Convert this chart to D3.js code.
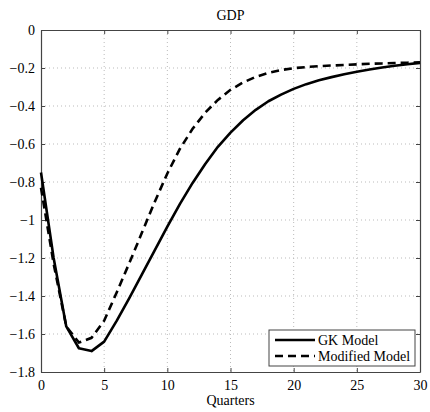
<!DOCTYPE html>
<html>
<head>
<meta charset="utf-8">
<script src="https://cdn.jsdelivr.net/npm/d3@7"></script>
<style>
  body { margin: 0; background: #fff; }
  text { font-family: "Liberation Serif", "DejaVu Serif", serif; fill: #000; }
</style>
</head>
<body>
<svg id="chart" width="430" height="412"></svg>
<script>
// data
const quarters = d3.range(0, 31);
const gkModel = [-0.75, -1.20, -1.56, -1.675, -1.69, -1.64, -1.53, -1.41, -1.285, -1.16,
  -1.035, -0.915, -0.805, -0.705, -0.615, -0.54, -0.475, -0.42, -0.375, -0.34,
  -0.31, -0.285, -0.265, -0.248, -0.233, -0.22, -0.208, -0.197, -0.188, -0.18, -0.173];
const modifiedModel = [-0.83, -1.23, -1.56, -1.645, -1.62, -1.53, -1.38, -1.225, -1.065, -0.905,
  -0.755, -0.625, -0.52, -0.435, -0.368, -0.315, -0.276, -0.247, -0.226, -0.211,
  -0.201, -0.195, -0.19, -0.187, -0.184, -0.181, -0.178, -0.176, -0.174, -0.172, -0.17];
const xTicks = [0, 5, 10, 15, 20, 25, 30];
const yTicks = [0, -0.2, -0.4, -0.6, -0.8, -1, -1.2, -1.4, -1.6, -1.8];
const seriesNames = ['GK Model', 'Modified Model'];

const margin = {left: 41, right: 10, top: 30, bottom: 40};
const width = 430 - margin.left - margin.right;
const height = 412 - margin.top - margin.bottom;
const serif = '"Liberation Serif", "DejaVu Serif", serif';

const svg = d3.select('#chart')
  .append('g')
  .attr('transform', `translate(${margin.left}, ${margin.top})`);

const x = d3.scaleLinear().domain([0, 30]).range([0, width]);
const y = d3.scaleLinear().domain([-1.8, 0]).range([height, 0]);

const fmt = d => d === 0 ? '0' : String(d).replace('-', '\u2212');

// dotted grid
svg.append('g').selectAll('line')
  .data(xTicks.slice(1, -1))
  .enter().append('line')
  .attr('x1', d => x(d)).attr('x2', d => x(d))
  .attr('y1', 0).attr('y2', height)
  .attr('stroke', '#bbb').attr('stroke-width', 1).attr('stroke-dasharray', '1,3');
svg.append('g').selectAll('line')
  .data(yTicks.slice(1, -1))
  .enter().append('line')
  .attr('x1', 0).attr('x2', width)
  .attr('y1', d => y(d)).attr('y2', d => y(d))
  .attr('stroke', '#bbb').attr('stroke-width', 1).attr('stroke-dasharray', '1,3');

// axes with inward ticks on all sides
const axisStyle = g => {
  g.attr('font-family', serif).attr('font-size', 14);
  g.select('.domain').attr('stroke', '#444').attr('stroke-width', 1.2);
  g.selectAll('.tick line').attr('stroke', '#444');
  g.selectAll('.tick text').attr('fill', '#000');
};
svg.append('g').attr('transform', `translate(0, ${height})`)
  .call(d3.axisBottom(x).tickValues(xTicks).tickSizeInner(-4).tickSizeOuter(0).tickPadding(8).tickFormat(fmt))
  .call(axisStyle);
svg.append('g')
  .call(d3.axisLeft(y).tickValues(yTicks).tickSizeInner(-4).tickSizeOuter(0).tickPadding(6).tickFormat(fmt))
  .call(axisStyle);
svg.append('g')
  .call(d3.axisTop(x).tickValues(xTicks).tickSizeInner(-4).tickSizeOuter(0).tickFormat(''))
  .call(axisStyle);
svg.append('g').attr('transform', `translate(${width}, 0)`)
  .call(d3.axisRight(y).tickValues(yTicks).tickSizeInner(-4).tickSizeOuter(0).tickFormat(''))
  .call(axisStyle);

// series
const line = d3.line().x((d, i) => x(quarters[i])).y(d => y(d));
svg.append('path').datum(gkModel)
  .attr('d', line).attr('fill', 'none')
  .attr('stroke', '#000').attr('stroke-width', 2.6).attr('stroke-linejoin', 'round');
svg.append('path').datum(modifiedModel)
  .attr('d', line).attr('fill', 'none')
  .attr('stroke', '#000').attr('stroke-width', 2.6).attr('stroke-dasharray', '8,5');

// title and label
svg.append('text').attr('x', width / 2).attr('y', -10)
  .attr('text-anchor', 'middle').attr('font-size', 14).text('GDP');
svg.append('text').attr('x', width / 2).attr('y', height + 33)
  .attr('text-anchor', 'middle').attr('font-size', 14).text('Quarters');

// legend
const legend = svg.append('g').attr('transform', `translate(${width - 151}, ${height - 42})`);
legend.append('rect').attr('width', 146).attr('height', 36)
  .attr('fill', '#fff').attr('stroke', '#444').attr('stroke-width', 1);
seriesNames.forEach((name, i) => {
  const row = legend.append('g').attr('transform', `translate(0, ${10 + i * 16})`);
  row.append('line').attr('x1', 6).attr('x2', 46).attr('y1', 0).attr('y2', 0)
    .attr('stroke', '#000').attr('stroke-width', 2.6)
    .attr('stroke-dasharray', i === 1 ? '8,5' : null);
  row.append('text').attr('x', 49).attr('y', 5).attr('font-size', 14).text(name);
});
</script>
</body>
</html>
